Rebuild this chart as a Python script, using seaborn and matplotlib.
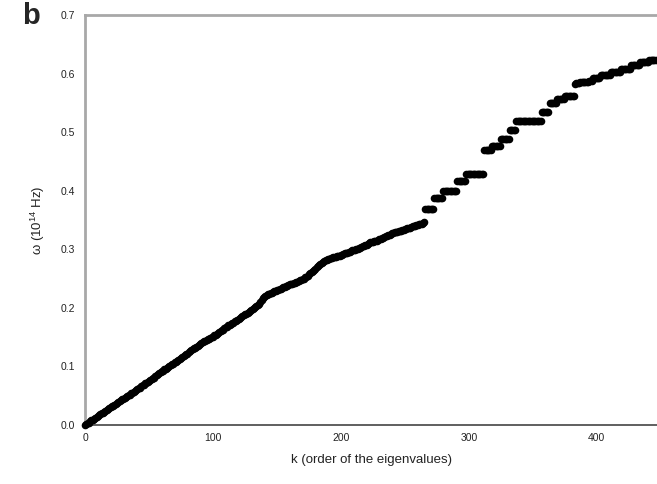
import numpy as np
import pandas as pd
import matplotlib
matplotlib.use("Agg")
import matplotlib.pyplot as plt
import seaborn as sns

# eigenfrequencies, one per eigenvalue index k
# smooth part (k = 0 .. 265)
omega_low = [
    0.000, 0.001, 0.003, 0.004, 0.006, 0.008, 0.009, 0.011, 0.012, 0.014,
    0.015, 0.017, 0.018, 0.020, 0.021, 0.023, 0.024, 0.026, 0.027, 0.029,
    0.030, 0.032, 0.033, 0.035, 0.036, 0.038, 0.039, 0.041, 0.042, 0.044,
    0.045, 0.046, 0.047, 0.049, 0.051, 0.052, 0.054, 0.055, 0.057, 0.058,
    0.060, 0.061, 0.063, 0.064, 0.066, 0.068, 0.069, 0.071, 0.072, 0.074,
    0.075, 0.077, 0.078, 0.080, 0.081, 0.083, 0.085, 0.087, 0.089, 0.090,
    0.092, 0.093, 0.095, 0.096, 0.098, 0.099, 0.101, 0.102, 0.104, 0.105,
    0.107, 0.108, 0.110, 0.111, 0.113, 0.114, 0.116, 0.117, 0.119, 0.121,
    0.122, 0.124, 0.126, 0.128, 0.129, 0.131, 0.132, 0.134, 0.135, 0.137,
    0.138, 0.140, 0.141, 0.143, 0.144, 0.145, 0.146, 0.147, 0.148, 0.150,
    0.151, 0.153, 0.154, 0.156, 0.157, 0.159, 0.160, 0.162, 0.163, 0.165,
    0.167, 0.168, 0.170, 0.171, 0.172, 0.174, 0.175, 0.177, 0.178, 0.180,
    0.181, 0.183, 0.184, 0.186, 0.187, 0.189, 0.190, 0.192, 0.193, 0.195,
    0.196, 0.198, 0.200, 0.201, 0.203, 0.205, 0.207, 0.210, 0.213, 0.216,
    0.219, 0.221, 0.222, 0.223, 0.224, 0.225, 0.226, 0.227, 0.228, 0.229,
    0.230, 0.231, 0.232, 0.233, 0.234, 0.235, 0.236, 0.237, 0.238, 0.239,
    0.240, 0.240, 0.241, 0.242, 0.243, 0.244, 0.245, 0.246, 0.247, 0.248,
    0.249, 0.250, 0.252, 0.253, 0.255, 0.257, 0.259, 0.261, 0.263, 0.265,
    0.267, 0.269, 0.271, 0.273, 0.275, 0.277, 0.278, 0.280, 0.281, 0.282,
    0.283, 0.284, 0.285, 0.285, 0.286, 0.287, 0.287, 0.288, 0.289, 0.289,
    0.290, 0.291, 0.292, 0.293, 0.293, 0.294, 0.295, 0.296, 0.297, 0.298,
    0.298, 0.299, 0.300, 0.301, 0.302, 0.303, 0.304, 0.305, 0.306, 0.307,
    0.308, 0.309, 0.311, 0.312, 0.313, 0.313, 0.314, 0.314, 0.315, 0.316,
    0.317, 0.318, 0.319, 0.320, 0.321, 0.322, 0.323, 0.324, 0.325, 0.326,
    0.327, 0.328, 0.329, 0.330, 0.330, 0.331, 0.331, 0.332, 0.333, 0.333,
    0.334, 0.335, 0.336, 0.337, 0.337, 0.338, 0.339, 0.339, 0.340, 0.341,
    0.342, 0.343, 0.343, 0.344, 0.345, 0.346,
]

# stepped part (k = 266 .. 446), degenerate levels
omega_high = [
    0.368, 0.368, 0.368, 0.368, 0.368, 0.368, 0.368,
    0.387, 0.387, 0.387, 0.387, 0.387, 0.387, 0.387,
    0.399, 0.399, 0.399, 0.399, 0.399, 0.399, 0.399, 0.399, 0.399, 0.399, 0.399,
    0.417, 0.417, 0.417, 0.417, 0.417, 0.417, 0.417,
    0.428, 0.428, 0.428, 0.428, 0.428, 0.428, 0.428, 0.428, 0.428, 0.428,
    0.428, 0.428, 0.428, 0.428,
    0.469, 0.469, 0.469, 0.469, 0.469, 0.469,
    0.476, 0.476, 0.476, 0.476, 0.476, 0.476, 0.476,
    0.489, 0.489, 0.489, 0.489, 0.489, 0.489, 0.489,
    0.504, 0.504, 0.504, 0.504, 0.504,
    0.519, 0.519, 0.519, 0.519, 0.519, 0.519, 0.519, 0.519, 0.519, 0.519,
    0.519, 0.519, 0.519, 0.519, 0.519, 0.519, 0.519, 0.519, 0.519, 0.519,
    0.535, 0.535, 0.535, 0.535, 0.535, 0.535,
    0.549, 0.549, 0.549, 0.549, 0.549, 0.549,
    0.556, 0.556, 0.556, 0.556, 0.556, 0.556,
    0.561, 0.561, 0.561, 0.561, 0.561, 0.561, 0.561, 0.561,
    0.583, 0.584, 0.584, 0.584, 0.585, 0.585, 0.585, 0.585, 0.586, 0.586,
    0.586, 0.587, 0.587, 0.588,
    0.592, 0.592, 0.592, 0.592, 0.592, 0.592,
    0.597, 0.597, 0.597, 0.597, 0.597, 0.597, 0.597, 0.597,
    0.602, 0.602, 0.602, 0.602, 0.602, 0.602, 0.602, 0.602,
    0.608, 0.608, 0.608, 0.608, 0.608, 0.608, 0.608, 0.608,
    0.614, 0.614, 0.614, 0.614, 0.614, 0.614, 0.614,
    0.619, 0.619, 0.619, 0.619, 0.619, 0.619, 0.619,
    0.623, 0.623, 0.623, 0.623, 0.623, 0.623,
]

x_ticks = [0, 100, 200, 300, 400]
y_ticks = [0.0, 0.1, 0.2, 0.3, 0.4, 0.5, 0.6, 0.7]

omega = omega_low + omega_high
df = pd.DataFrame({"k": np.arange(len(omega)), "omega": omega})

sns.set_style("white")
plt.rcParams["font.family"] = ["Liberation Sans", "DejaVu Sans"]
plt.rcParams["mathtext.fontset"] = "custom"
plt.rcParams["mathtext.rm"] = "Liberation Sans"

fig = plt.figure(figsize=(6.57, 4.84), dpi=100)
ax = fig.add_axes([0.1294, 0.1219, 0.8706, 0.8471])

sns.scatterplot(data=df, x="k", y="omega", ax=ax, color="black",
                s=30, linewidth=0, marker="o", clip_on=False, zorder=3)

ax.set_xlim(0, 447)
ax.set_ylim(0, 0.7)
ax.set_xticks(x_ticks)
ax.set_yticks(y_ticks)
ax.set_yticklabels([f"{v:.1f}" for v in y_ticks])

ax.tick_params(axis="x", direction="in", length=4, width=1, colors="#555555",
               labelcolor="#222222", labelsize=7.5, pad=6)
ax.tick_params(axis="y", direction="out", length=4, width=1, colors="#999999",
               labelcolor="#222222", labelsize=7.5, pad=3)

ax.spines["right"].set_visible(False)
ax.spines["top"].set_color("#a8a8a8")
ax.spines["top"].set_linewidth(2)
ax.spines["left"].set_color("#a8a8a8")
ax.spines["left"].set_linewidth(2)
ax.spines["bottom"].set_color("#444444")
ax.spines["bottom"].set_linewidth(1.2)

ax.set_xlabel("k (order of the eigenvalues)", fontsize=9.5, color="#222222", labelpad=8)
ax.set_ylabel("\u03c9 (10$^{14}$ Hz)", fontsize=9.5, color="#222222", labelpad=10)

fig.text(0.033, 0.995, "b", fontsize=21, fontweight="bold", va="top", ha="left")

fig.savefig("out.png", dpi=100)
